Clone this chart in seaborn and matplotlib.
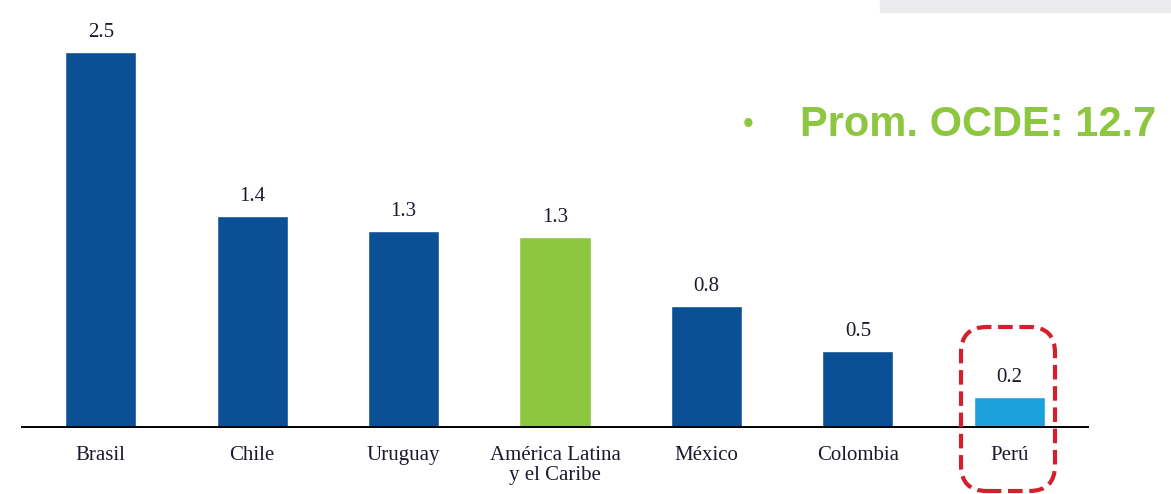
import numpy as np
import pandas as pd
import matplotlib.pyplot as plt
import seaborn as sns
from matplotlib.patches import FancyBboxPatch, Rectangle

# data
paises = ["Brasil", "Chile", "Uruguay", "América Latina\ny el Caribe", "México", "Colombia", "Perú"]
valores = [2.5, 1.41, 1.31, 1.27, 0.81, 0.51, 0.2]
etiquetas = ["2.5", "1.4", "1.3", "1.3", "0.8", "0.5", "0.2"]
colores = ["#0b4f94", "#0b4f94", "#0b4f94", "#8dc63f", "#0b4f94", "#0b4f94", "#1ba1db"]
nota_ocde = "Prom. OCDE: 12.7"

sns.set_theme(style="white")
plt.rcParams["font.family"] = ["Liberation Serif", "DejaVu Serif"]

df = pd.DataFrame({"pais": paises, "valor": valores})

fig = plt.figure(figsize=(11.71, 4.94), dpi=100)
ax = fig.add_axes([22 / 1171, 67 / 494, 1066 / 1171, 427 / 494])

sns.barplot(data=df, x="pais", y="valor", hue="pais", palette=colores,
            width=0.47, legend=False, saturation=1, ax=ax)

for cont, lab in zip(ax.containers, etiquetas):
    ax.bar_label(cont, labels=[lab], padding=7, fontsize=15, color="#1a1a2e")

ax.set_xlim(-0.52, 6.52)
ax.set_ylim(0, 2.847)
ax.set_xlabel("")
ax.set_ylabel("")
ax.set_yticks([])
ax.tick_params(axis="x", length=0, pad=14, labelsize=15, labelcolor="#1a1a2e")
for lbl in ax.get_xticklabels():
    lbl.set_linespacing(1.05)
for s in ["top", "right", "left"]:
    ax.spines[s].set_visible(False)
ax.spines["bottom"].set_color("black")
ax.spines["bottom"].set_linewidth(1.4)

# faded band at top (scan artifact)
fig.patches.append(Rectangle((880 / 1171, 482 / 494), 291 / 1171, 12 / 494,
                             transform=fig.transFigure, color="#ececee", zorder=0))

# OCDE note
fig.text(748 / 1171, 369 / 494, "•", color="#8dc63f", fontsize=22,
         ha="center", va="center", family=["Liberation Sans", "DejaVu Sans"])
fig.text(800 / 1171, 369 / 494, nota_ocde, color="#8dc63f", fontsize=30,
         fontweight="bold", ha="left", va="center",
         family=["Liberation Sans", "DejaVu Sans"])

# dashed highlight box around Perú
caja = FancyBboxPatch((961 / 1171, 3 / 494), 94 / 1171, 164 / 494,
                      boxstyle="round,pad=0,rounding_size=0.022",
                      transform=fig.transFigure, fill=False,
                      edgecolor="#d3202c", linewidth=3, linestyle=(0, (3.5, 1.6)),
                      mutation_aspect=2.37)
fig.patches.append(caja)

fig.savefig("out.png", dpi=100)
